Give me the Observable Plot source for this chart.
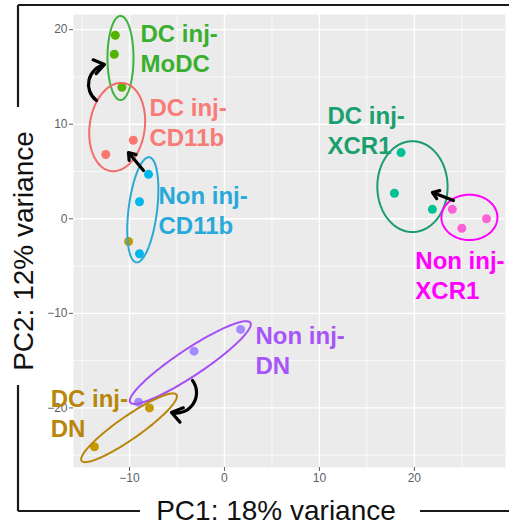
<!DOCTYPE html>
<html>
<head>
<meta charset="utf-8">
<script src="https://cdn.jsdelivr.net/npm/d3@7"></script>
<script src="https://cdn.jsdelivr.net/npm/@observablehq/plot@0.6"></script>
<style>
  html, body { margin: 0; padding: 0; background: #fff; }
  #chart svg { display: block; }
</style>
</head>
<body>
<div id="chart"></div>
<script>
// ---- Data ----
const groups = ["DC inj-CD11b", "DC inj-DN", "DC inj-MoDC", "DC inj-XCR1", "Non inj-CD11b", "Non inj-DN", "Non inj-XCR1"];
const groupColors = ["#F8766D", "#C49A00", "#53B400", "#00C094", "#00B6EB", "#A58AFF", "#FB61D7"];

const sampleGroup = [
  "DC inj-MoDC", "DC inj-MoDC", "DC inj-MoDC",
  "DC inj-CD11b", "DC inj-CD11b",
  "Non inj-CD11b", "Non inj-CD11b", "Non inj-CD11b",
  "DC inj-DN", "DC inj-DN", "DC inj-DN",
  "Non inj-DN", "Non inj-DN", "Non inj-DN",
  "DC inj-XCR1", "DC inj-XCR1", "DC inj-XCR1",
  "Non inj-XCR1", "Non inj-XCR1", "Non inj-XCR1"
];
const pc1 = [-11.5, -11.6, -10.8, -12.5, -9.6, -8.0, -8.95, -8.95, -10.1, -7.9, -13.7, 1.7, -3.2, -9.05, 18.6, 17.9, 21.9, 24.0, 27.6, 25.0];
const pc2 = [19.4, 17.4, 13.9, 6.8, 8.3, 4.7, 1.8, -3.7, -2.4, -20.0, -24.1, -11.7, -14.0, -19.4, 7.0, 2.7, 1.0, 1.0, 0.0, -1.0];

// annotation ellipses (data units)
const ellGroup = ["DC inj-MoDC", "DC inj-CD11b", "Non inj-CD11b", "DC inj-XCR1", "Non inj-XCR1", "Non inj-DN", "DC inj-DN"];
const ellCx = [-10.95, -11.3, -8.6, 19.8, 25.8, -3.6, -10.05];
const ellCy = [17.0, 9.7, 0.95, 3.4, 0.15, -15.2, -22.1];
const ellRx = [1.37, 2.9, 1.5, 3.7, 2.95, 7.6, 6.1];
const ellRy = [4.45, 4.7, 5.6, 4.8, 2.4, 1.4, 1.2];
const ellAngle = [0, -8, -7, 0, 0, 33.7, 35];
const ellColor = ["#3db33d", "#f26b6b", "#2aa8d6", "#1a9c6c", "#ff00ff", "#a64ff5", "#b8860b"];

// text labels
const labelText = ["DC inj-\nMoDC", "DC inj-\nCD11b", "Non inj-\nCD11b", "DC inj-\nXCR1", "Non inj-\nXCR1", "Non inj-\nDN", "DC inj-\nDN"];
const labelX = [-8.84, -7.9, -6.95, 10.85, 20.1, 3.27, -18.3];
const labelY = [20.9, 13.14, 3.84, 12.3, -3.04, -10.97, -17.63];
const labelColor = ["#3aae2e", "#f87b78", "#27aad9", "#19a06e", "#ff00ff", "#a855f7", "#b8860b"];

// arrows
const arrowX1 = [-13.48, -8.53, 24.12, -3.37];
const arrowY1 = [12.5, 5.1, 1.93, -17.1];
const arrowX2 = [-12.64, -10.11, 21.91, -5.58];
const arrowY2 = [16.31, 7.0, 2.78, -20.49];
const arrowBend = [65, 0, 0, 70];

const xTicks = [-10, 0, 10, 20];
const xMinor = [-15, -5, 5, 15, 25];
const yTicks = [-20, -10, 0, 10, 20];
const yMinor = [-25, -15, -5, 5, 15];

// ---- Build tables ----
const points = pc1.map((x, i) => ({x, y: pc2[i], group: sampleGroup[i], color: groupColors[groups.indexOf(sampleGroup[i])]}));

const ellipsePts = [];
ellCx.forEach((cx, k) => {
  const a = ellAngle[k] * Math.PI / 180;
  for (let j = 0; j <= 120; j++) {
    const t = (j / 120) * 2 * Math.PI;
    const ex = ellRx[k] * Math.cos(t), ey = ellRy[k] * Math.sin(t);
    ellipsePts.push({k, x: cx + ex * Math.cos(a) - ey * Math.sin(a), y: ellCy[k] + ex * Math.sin(a) + ey * Math.cos(a), c: ellColor[k]});
  }
});

const labels = labelText.map((t, i) => ({t, x: labelX[i], y: labelY[i], c: labelColor[i]}));
const arrows = arrowX1.map((x1, i) => ({x1, y1: arrowY1[i], x2: arrowX2[i], y2: arrowY2[i], bend: arrowBend[i]}));

const W = 509, H = 527;
const ff = "'Liberation Sans', Arial, Helvetica, sans-serif";

const marks = [
  Plot.frame({fill: "#ebebeb", stroke: null}),
  Plot.ruleX(xMinor, {stroke: "#ffffff", strokeWidth: 0.7}),
  Plot.ruleY(yMinor, {stroke: "#ffffff", strokeWidth: 0.7}),
  Plot.ruleX(xTicks, {stroke: "#ffffff", strokeWidth: 1.4}),
  Plot.ruleY(yTicks, {stroke: "#ffffff", strokeWidth: 1.4}),
  Plot.axisX({ticks: xTicks, tickSize: 4, tickPadding: 2, fontSize: 12, color: "#5a5f6a", label: null}),
  Plot.axisY({ticks: yTicks, tickSize: 4, tickPadding: 2, fontSize: 12, color: "#5a5f6a", label: null}),
  Plot.dot(points, {x: "x", y: "y", r: 4.5, fill: "color", stroke: null}),
  Plot.line(ellipsePts, {x: "x", y: "y", z: "k", stroke: "c", strokeWidth: 2, curve: "linear"}),
  ...arrows.map(a => Plot.arrow([a], {x1: "x1", y1: "y1", x2: "x2", y2: "y2", bend: a.bend, stroke: "#000", strokeWidth: 3.2, headLength: 9, headAngle: 70})),
  ...labels.map(l => Plot.text([l], {x: "x", y: "y", text: "t", fill: l.c, fontSize: 24, fontWeight: "bold", textAnchor: "start", lineAnchor: "top", lineHeight: 1.25}))
];

const svg = Plot.plot({
  width: W,
  height: H,
  marginLeft: 73,
  marginRight: 4,
  marginTop: 14,
  marginBottom: 60,
  x: {domain: [-15.9, 29.6]},
  y: {domain: [-26.3, 21.6]},
  color: {type: "identity"},
  style: {fontFamily: ff, background: "#fff", overflow: "visible"},
  marks
});

// decorative outer frame lines and axis titles
const s = d3.select(svg);
const g = s.append("g").attr("stroke", "#1a1a1a").attr("stroke-width", 2.2).attr("fill", "none");
[[18, 5, 509, 5], [18, 5, 18, 107], [18, 385, 18, 511], [18, 511, 140, 511], [420, 511, 509, 511]].forEach(([a, b, c, d]) => {
  g.append("line").attr("x1", a).attr("y1", b).attr("x2", c).attr("y2", d);
});
s.append("text").attr("x", 276).attr("y", 520).attr("text-anchor", "middle")
  .attr("font-size", 28).attr("font-family", ff).attr("fill", "#111").text("PC1: 18% variance");
s.append("text").attr("transform", "translate(33,251) rotate(-90)").attr("text-anchor", "middle")
  .attr("font-size", 28).attr("font-family", ff).attr("fill", "#111").text("PC2: 12% variance");

document.getElementById("chart").appendChild(svg);
</script>
</body>
</html>
